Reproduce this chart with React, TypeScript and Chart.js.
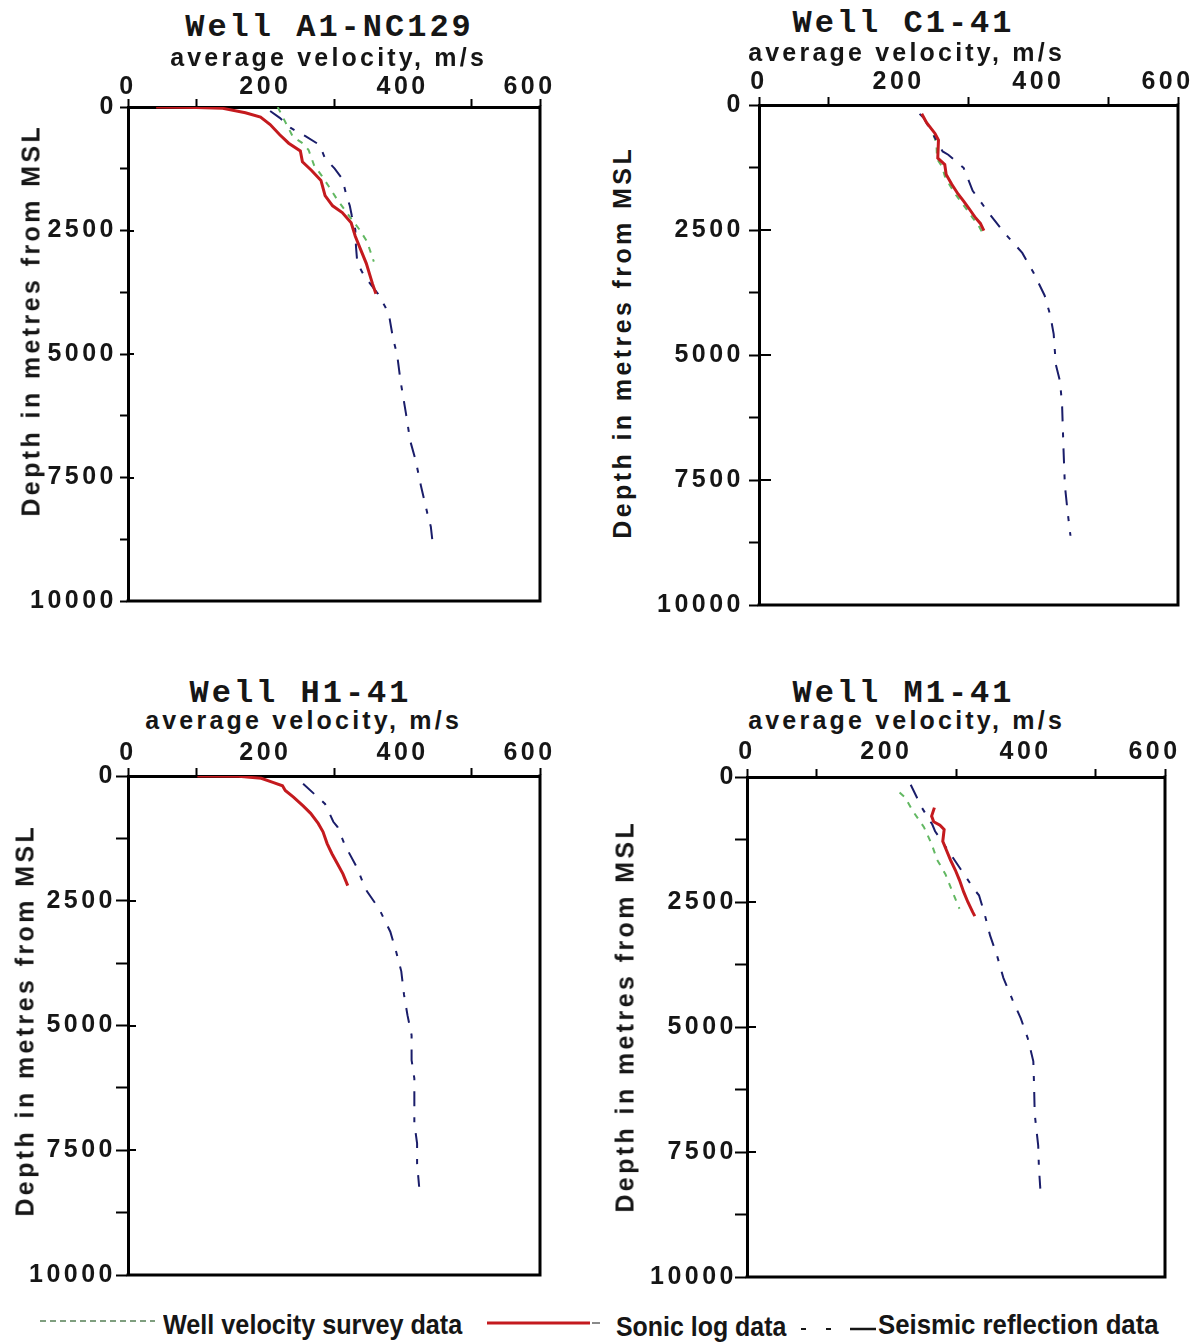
import React, { useEffect, useRef } from 'react';
import { Chart, registerables } from 'chart.js';

Chart.register(...registerables);

// ---------- axes ----------
const VELOCITY_MIN = 0;
const VELOCITY_MAX = 600;
const VELOCITY_TICKS = [0, 100, 200, 300, 400, 500, 600];
const VELOCITY_LABELS = [0, 200, 400, 600];
const VELOCITY_UNMARKED = [200, 400];
const DEPTH_MIN = 0;
const DEPTH_MAX = 10000;
const DEPTH_TICKS = [0, 1250, 2500, 3750, 5000, 6250, 7500, 8750, 10000];
const DEPTH_LABELS = [0, 2500, 5000, 7500, 10000];

const X_AXIS_TITLE = 'average velocity, m/s';
const Y_AXIS_TITLE = 'Depth in metres from MSL';
const SURVEY_NAME = 'Well velocity survey data';
const SONIC_NAME = 'Sonic log data';
const SEISMIC_NAME = 'Seismic reflection data';

// ---------- Well A1-NC129 ----------
const A1_SONIC_VEL = [41, 99, 138, 171, 193, 207, 221, 234, 251, 254, 267, 281, 287, 298, 312, 325, 331, 339, 347, 356, 361];
const A1_SONIC_DEPTH = [0, 10, 27, 116, 205, 356, 562, 733, 890, 1110, 1281, 1486, 1795, 2000, 2137, 2343, 2617, 2891, 3165, 3576, 3781];
const A1_SEISMIC_VEL = [207, 221, 237, 259, 279, 287, 301, 312, 317, 323, 326, 331, 332, 334, 345, 364, 375, 381, 386, 392, 397, 405, 411, 419, 427, 436, 441, 444];
const A1_SEISMIC_DEPTH = [82, 219, 425, 596, 767, 1041, 1247, 1452, 1726, 2000, 2206, 2480, 2822, 3165, 3439, 3781, 4055, 4285, 4686, 5020, 5555, 6223, 6758, 7159, 7694, 8228, 8496, 8863];
const A1_SURVEY_VEL = [218, 240, 255, 263, 271, 282, 293, 304, 315, 326, 337, 348, 358];
const A1_SURVEY_DEPTH = [0, 600, 740, 870, 1180, 1390, 1620, 1860, 2070, 2280, 2480, 2720, 3130];

// ---------- Well C1-41 ----------
const C1_SONIC_VEL = [233, 240, 252, 257, 256, 266, 268, 276, 285, 293, 301, 309, 317, 322];
const C1_SONIC_DEPTH = [177, 353, 569, 700, 1060, 1191, 1388, 1584, 1780, 1924, 2075, 2238, 2369, 2513];
const C1_SEISMIC_VEL = [230, 236, 263, 271, 293, 306, 328, 350, 377, 393, 409, 417, 422, 425, 431, 434, 436, 438, 442, 446];
const C1_SEISMIC_DEPTH = [177, 260, 929, 995, 1257, 1715, 2140, 2533, 2958, 3351, 3809, 4200, 4583, 5188, 5524, 5995, 6868, 7607, 8145, 8615];
const C1_SURVEY_VEL = [250, 254, 255, 262, 266, 273, 282, 290, 298, 306, 314, 320];
const C1_SURVEY_DEPTH = [600, 760, 1080, 1230, 1420, 1600, 1800, 1950, 2100, 2260, 2400, 2560];

// ---------- Well H1-41 ----------
const H1_SONIC_VEL = [101, 161, 194, 211, 225, 229, 241, 255, 266, 277, 284, 290, 297, 305, 313, 320];
const H1_SONIC_DEPTH = [0, 7, 47, 128, 195, 290, 425, 600, 748, 950, 1119, 1355, 1557, 1759, 1961, 2197];
const H1_SEISMIC_VEL = [255, 287, 299, 305, 316, 333, 344, 348, 366, 382, 391, 398, 402, 407, 413, 413, 417, 417, 421, 421, 424];
const H1_SEISMIC_DEPTH = [155, 559, 917, 1018, 1388, 1826, 2197, 2312, 2669, 3120, 3545, 3915, 4387, 4793, 5194, 5694, 6061, 6963, 7363, 7764, 8231];
const H1_SURVEY_VEL: number[] = [];
const H1_SURVEY_DEPTH: number[] = [];

// ---------- Well M1-41 ----------
const M1_SONIC_VEL = [269, 265, 268, 277, 283, 281, 286, 292, 299, 305, 311, 317, 324, 327];
const M1_SONIC_DEPTH = [613, 782, 896, 964, 1051, 1287, 1456, 1658, 1860, 2062, 2298, 2500, 2702, 2783];
const M1_SEISMIC_VEL = [235, 251, 266, 270, 327, 333, 341, 349, 359, 368, 381, 393, 403, 411, 412, 413, 418, 419, 421];
const M1_SEISMIC_DEPTH = [155, 613, 950, 1085, 2264, 2365, 2736, 3174, 3578, 4016, 4454, 4828, 5225, 5687, 6137, 6745, 7373, 7803, 8232];
const M1_SURVEY_VEL = [219, 227, 238, 254, 265, 273, 285, 295, 305];
const M1_SURVEY_DEPTH = [310, 411, 681, 1004, 1341, 1658, 1948, 2298, 2635];

// ---------- styles ----------
const RED = '#c41a1e';
const NAVY = '#1a1d6a';
const GREEN = '#62b862';
const INK = '#161616';
const SANS = "'Liberation Sans', Arial, sans-serif";
const MONO = "'Liberation Mono', 'Courier New', monospace";

const Y_W = 115; // width reserved for y tick labels inside canvas
const X_H = 40; // height reserved for x tick labels inside canvas
const PAD_B = 16;

interface PanelSpec {
  title: string;
  sonic: [number[], number[]];
  seismic: [number[], number[]];
  survey: [number[], number[]];
  L: number; T: number; R: number; B: number;
  titleX: number; titleY: number;
  xTitleX: number; xTitleY: number;
  yTitleX: number; yTitleY: number;
  yTickLen: number; yTickPad: number; yTickIn: number; xTickPad: number;
}

const PANELS: PanelSpec[] = [
  {
    title: 'Well A1-NC129',
    sonic: [A1_SONIC_VEL, A1_SONIC_DEPTH], seismic: [A1_SEISMIC_VEL, A1_SEISMIC_DEPTH], survey: [A1_SURVEY_VEL, A1_SURVEY_DEPTH],
    L: 128, T: 107, R: 540, B: 601,
    titleX: 328, titleY: 28, xTitleX: 327, xTitleY: 56.5, yTitleX: 31, yTitleY: 322,
    yTickLen: 8, yTickPad: 3, yTickIn: 6, xTickPad: -1,
  },
  {
    title: 'Well C1-41',
    sonic: [C1_SONIC_VEL, C1_SONIC_DEPTH], seismic: [C1_SEISMIC_VEL, C1_SEISMIC_DEPTH], survey: [C1_SURVEY_VEL, C1_SURVEY_DEPTH],
    L: 759, T: 105, R: 1178, B: 605,
    titleX: 902, titleY: 24, xTitleX: 905, xTitleY: 51.5, yTitleX: 621.5, yTitleY: 344,
    yTickLen: 10, yTickPad: 5, yTickIn: 12, xTickPad: 2.5,
  },
  {
    title: 'Well H1-41',
    sonic: [H1_SONIC_VEL, H1_SONIC_DEPTH], seismic: [H1_SEISMIC_VEL, H1_SEISMIC_DEPTH], survey: [H1_SURVEY_VEL, H1_SURVEY_DEPTH],
    L: 128, T: 776, R: 540, B: 1275,
    titleX: 299, titleY: 694, xTitleX: 302, xTitleY: 719.5, yTitleX: 24.5, yTitleY: 1022,
    yTickLen: 12, yTickPad: 0, yTickIn: 8, xTickPad: 2.5,
  },
  {
    title: 'Well M1-41',
    sonic: [M1_SONIC_VEL, M1_SONIC_DEPTH], seismic: [M1_SEISMIC_VEL, M1_SEISMIC_DEPTH], survey: [M1_SURVEY_VEL, M1_SURVEY_DEPTH],
    L: 747, T: 777, R: 1165, B: 1277,
    titleX: 902, titleY: 694, xTitleX: 905, xTitleY: 719.5, yTitleX: 625, yTitleY: 1018,
    yTickLen: 12, yTickPad: -2, yTickIn: 9, xTickPad: 4,
  },
];

function points(vel: number[], depth: number[]) {
  return vel.map((v, i) => ({ x: v, y: depth[i] }));
}

function buildConfig(p: PanelSpec, padR: number): any {
  const framePlugin = {
    id: 'frame',
    beforeDraw(chart: any) {
      chart.ctx.letterSpacing = '3.5px';
    },
    afterDraw(chart: any) {
      const { ctx, chartArea: a, scales } = chart;
      ctx.save();
      ctx.strokeStyle = '#000';
      ctx.lineWidth = 3;
      ctx.beginPath();
      ctx.moveTo(a.right, a.top - 1.5);
      ctx.lineTo(a.right, a.bottom);
      ctx.lineTo(a.left - 1.5, a.bottom);
      ctx.stroke();
      ctx.lineWidth = 2;
      ctx.beginPath();
      for (const v of DEPTH_LABELS) {
        const y = Math.round(scales.y.getPixelForValue(v));
        ctx.moveTo(a.left, y);
        ctx.lineTo(a.left + p.yTickIn, y);
      }
      ctx.stroke();
      ctx.restore();
    },
  };

  const tickFont = { family: SANS, size: 25, weight: 'bold' as const, lineHeight: 1 };

  return {
    type: 'line',
    data: {
      datasets: [
        {
          label: SONIC_NAME,
          data: points(p.sonic[0], p.sonic[1]),
          borderColor: RED,
          borderWidth: 3,
          pointRadius: 0,
          tension: 0,
        },
        {
          label: SEISMIC_NAME,
          data: points(p.seismic[0], p.seismic[1]),
          borderColor: NAVY,
          borderWidth: 2,
          borderDash: [15, 11, 5, 11],
          pointRadius: 0,
          tension: 0,
        },
        {
          label: SURVEY_NAME,
          data: points(p.survey[0], p.survey[1]),
          borderColor: GREEN,
          borderWidth: 2,
          borderDash: [6, 7],
          pointRadius: 0,
          tension: 0,
        },
      ],
    },
    options: {
      animation: false,
      responsive: false,
      maintainAspectRatio: false,
      events: [],
      layout: { padding: { left: 0, top: 0, right: padR, bottom: PAD_B } },
      plugins: {
        legend: { display: false },
        title: { display: false },
        tooltip: { enabled: false },
      },
      scales: {
        x: {
          type: 'linear',
          position: 'top',
          min: VELOCITY_MIN,
          max: VELOCITY_MAX,
          afterBuildTicks: (s: any) => {
            s.ticks = VELOCITY_TICKS.map((value) => ({ value }));
          },
          afterFit: (s: any) => {
            s.height = X_H;
            s.paddingLeft = 0;
            s.paddingRight = 0;
          },
          ticks: {
            autoSkip: false,
            maxRotation: 0,
            minRotation: 0,
            padding: p.xTickPad,
            color: INK,
            font: tickFont,
            callback: (value: number) =>
              VELOCITY_LABELS.includes(value)
                ? value === VELOCITY_MAX
                  ? String(value) + '\u00a0\u00a0'
                  : String(value)
                : '',
          },
          grid: {
            drawOnChartArea: false,
            drawTicks: true,
            tickLength: 8,
            tickWidth: 2,
            color: (ctx: any) =>
              ctx.tick && VELOCITY_UNMARKED.includes(ctx.tick.value) ? 'rgba(0,0,0,0)' : '#000',
          },
          border: { display: true, color: '#000', width: 3 },
        },
        y: {
          type: 'linear',
          position: 'left',
          reverse: true,
          min: DEPTH_MIN,
          max: DEPTH_MAX,
          afterBuildTicks: (s: any) => {
            s.ticks = DEPTH_TICKS.map((value) => ({ value }));
          },
          afterFit: (s: any) => {
            s.width = Y_W;
            s.paddingTop = 0;
            s.paddingBottom = 0;
          },
          ticks: {
            autoSkip: false,
            padding: p.yTickPad,
            color: INK,
            font: tickFont,
            callback: (value: number) => (DEPTH_LABELS.includes(value) ? String(value) : ''),
          },
          grid: {
            drawOnChartArea: false,
            drawTicks: true,
            tickLength: p.yTickLen,
            tickWidth: 2,
            color: '#000',
          },
          border: { display: true, color: '#000', width: 3 },
        },
      },
    },
    plugins: [framePlugin],
  };
}

function Panel({ p }: { p: PanelSpec }) {
  const ref = useRef<HTMLCanvasElement>(null);
  const padR = Math.min(30, 1194 - p.R);
  const w = Y_W + (p.R - p.L) + padR;
  const h = X_H + (p.B - p.T) + PAD_B;

  useEffect(() => {
    const canvas = ref.current;
    if (!canvas) return;
    const chart = new Chart(canvas, buildConfig(p, padR));
    return () => chart.destroy();
  }, []);

  const titleLs = 3;
  const xLs = 3.2;
  const yLs = 3.4;

  return (
    <>
      <canvas
        ref={ref}
        width={w}
        height={h}
        style={{ position: 'absolute', left: p.L - Y_W, top: p.T - X_H, width: w, height: h }}
      />
      <div
        style={{
          position: 'absolute', left: p.titleX, top: p.titleY, transform: 'translate(-50%, -50%)',
          font: `bold 32px ${MONO}`, letterSpacing: titleLs, paddingLeft: titleLs, lineHeight: 1,
          whiteSpace: 'nowrap', color: INK,
        }}
      >
        {p.title}
      </div>
      <div
        style={{
          position: 'absolute', left: p.xTitleX, top: p.xTitleY, transform: 'translate(-50%, -50%)',
          font: `bold 25px ${SANS}`, letterSpacing: xLs, paddingLeft: xLs, lineHeight: 1,
          whiteSpace: 'nowrap', color: INK,
        }}
      >
        {X_AXIS_TITLE}
      </div>
      <div
        style={{
          position: 'absolute', left: p.yTitleX, top: p.yTitleY,
          transform: 'translate(-50%, -50%) rotate(-90deg)',
          font: `bold 25px ${SANS}`, letterSpacing: yLs, paddingLeft: yLs, lineHeight: 1,
          whiteSpace: 'nowrap', color: INK,
        }}
      >
        {Y_AXIS_TITLE}
      </div>
    </>
  );
}

function Legend() {
  const text = (left: number, baseline: number, label: string, sx: number) => (
    <div
      style={{
        position: 'absolute', left, top: baseline - 23.7, font: `bold 28px ${SANS}`,
        lineHeight: 1, whiteSpace: 'nowrap', color: INK,
        transform: `scaleX(${sx})`, transformOrigin: '0 50%',
      }}
    >
      {label}
    </div>
  );
  return (
    <>
      <svg
        width={1194}
        height={44}
        style={{ position: 'absolute', left: 0, top: 1300, overflow: 'visible' }}
      >
        <line x1={40} y1={21} x2={155} y2={21} stroke="#7f9f7f" strokeWidth={2} strokeDasharray="6 4" />
        <line x1={487} y1={23} x2={590} y2={23} stroke={RED} strokeWidth={3} />
        <line x1={592} y1={23} x2={600} y2={23} stroke="#8a8a8a" strokeWidth={2} />
        <line x1={801} y1={29} x2={806} y2={29} stroke={INK} strokeWidth={2} />
        <line x1={826} y1={29} x2={831} y2={29} stroke={INK} strokeWidth={2} />
        <line x1={850} y1={29} x2={876} y2={29} stroke={INK} strokeWidth={2.5} />
      </svg>
      {text(163, 1335, SURVEY_NAME, 0.9)}
      {text(616, 1337, SONIC_NAME, 0.89)}
      {text(878, 1335, SEISMIC_NAME, 0.92)}
    </>
  );
}

export default function App() {
  return (
    <div
      style={{
        position: 'absolute', left: 0, top: 0, width: 1194, height: 1344,
        overflow: 'hidden', background: '#fff',
      }}
    >
      {PANELS.map((p) => (
        <Panel key={p.title} p={p} />
      ))}
      <Legend />
    </div>
  );
}
